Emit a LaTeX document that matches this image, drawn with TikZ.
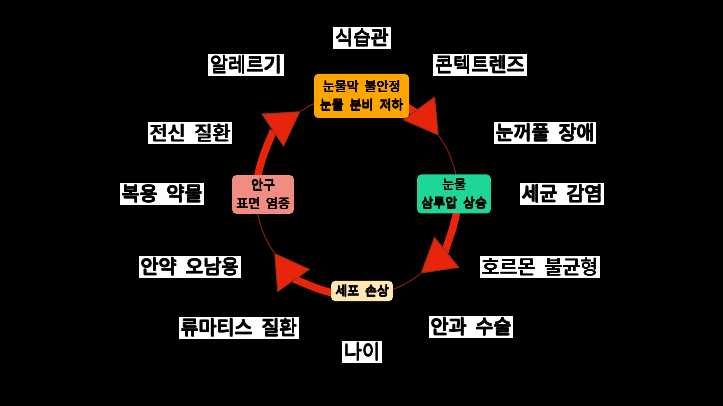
\documentclass[tikz,border=0pt]{standalone}
\usepackage{fontspec}
\setmainfont{Noto Sans CJK KR}
\usetikzlibrary{arrows.meta,calc}
\definecolor{arrred}{RGB}{232,36,12}
\definecolor{arrdark}{RGB}{150,50,20}
\definecolor{thinred}{RGB}{130,35,15}
\definecolor{boxorange}{RGB}{255,165,0}
\definecolor{boxteal}{RGB}{30,214,152}
\definecolor{boxpink}{RGB}{240,140,130}
\definecolor{boxcream}{RGB}{255,232,180}
\newcommand\wsp{\hspace{0.45em}}
\newcommand\bld[2][0.7pt]{\makebox[0pt][l]{\hspace{#1}#2}\makebox[0pt][l]{\raisebox{#1}{#2}}\makebox[0pt][l]{\hspace{#1}\raisebox{#1}{#2}}\makebox[0pt][l]{\hspace{0.5\dimexpr#1\relax}\raisebox{0.5\dimexpr#1\relax}{#2}}#2}
\begin{document}
\begin{tikzpicture}[x=1pt,y=1pt,
 outer/.style={fill=white,text=black,font=\fontsize{19.5}{22}\selectfont,inner xsep=2pt,inner ysep=2pt},
 stage/.style={rounded corners=4pt,text=black,font=\fontsize{13}{18.5}\selectfont,align=center,inner xsep=4pt,inner ysep=4pt},
 thickarc/.style={draw=arrred,line width=7.5pt,-{Triangle[length=34pt,width=40pt,line width=1pt,fill=arrred,color=arrdark]}},
 thinarc/.style={draw=thinred,line width=1pt}]
\fill[black] (0,0) rectangle (723,406);
\useasboundingbox (0,0) rectangle (723,406);
\coordinate (c) at (357,211);
\def\R{101}
% arc points
\coordinate (a1s) at ($(c)+(62:\R)$);
\coordinate (a1t) at ($(c)+(36:\R)$);
\coordinate (a2s) at ($(c)+(-8:\R)$);
\coordinate (a2t) at ($(c)+(-51:\R)$);
\coordinate (a3s) at ($(c)+(-100:\R)$);
\coordinate (a3t) at ($(c)+(-145:\R)$);
\coordinate (a4s) at ($(c)+(172:\R)$);
\coordinate (a4t) at ($(c)+(124:\R)$);
% thin parts
\draw[thinarc] (a1t) arc[start angle=36,end angle=10,radius=\R];
\draw[thinarc] (a2t) arc[start angle=-51,end angle=-72,radius=\R];
\draw[thinarc] (a3t) arc[start angle=-145,end angle=-172,radius=\R];
\draw[thinarc] (a4t) arc[start angle=124,end angle=112,radius=\R];
% thick parts
\draw[thickarc] (a1s) arc[start angle=62,end angle=36,radius=\R];
\draw[thickarc] (a2s) arc[start angle=-8,end angle=-51,radius=\R];
\draw[thickarc] (a3s) arc[start angle=-100,end angle=-145,radius=\R];
\draw[thickarc] (a4s) arc[start angle=172,end angle=124,radius=\R];
% stages
\node[stage,fill=boxorange,minimum width=95pt,minimum height=44pt] (tf) at (361.5,310) {\bld[0.45pt]{눈물막\wsp{}불안정}\\\bld[0.45pt]{눈물\wsp{}분비\wsp{}저하}};
\node[stage,fill=boxteal,minimum height=39pt] (osm) at (454,212) {\bld[0.45pt]{눈물}\\\bld[0.45pt]{삼투압\wsp{}상승}};
\node[stage,fill=boxcream] (cell) at (362,115) {\bld[0.45pt]{세포\wsp{}손상}};
\node[stage,fill=boxpink] (inf) at (263,211.5) {\bld[0.45pt]{안구}\\\bld[0.45pt]{표면\wsp{}염증}};
% outer labels
\node[outer] (l1) at (362,368) {\bld{식습관}};
\node[outer] (l2) at (246,341) {\bld{알레르기}};
\node[outer] (l3) at (480,341) {\bld{콘텍트렌즈}};
\node[outer] (l4) at (190,273) {\bld{전신\wsp{}질환}};
\node[outer] (l5) at (545,273) {\bld{눈꺼풀\wsp{}장애}};
\node[outer] (l6) at (162,212) {\bld{복용\wsp{}약물}};
\node[outer] (l7) at (562,212) {\bld{세균\wsp{}감염}};
\node[outer] (l8) at (190,139) {\bld{안약\wsp{}오남용}};
\node[outer] (l9) at (540,139) {\bld{호르몬\wsp{}불균형}};
\node[outer] (l10) at (239,78) {\bld{류마티스\wsp{}질환}};
\node[outer] (l11) at (471,79) {\bld{안과\wsp{}수술}};
\node[outer] (l12) at (362,54) {\bld{나이}};
\end{tikzpicture}
\end{document}
